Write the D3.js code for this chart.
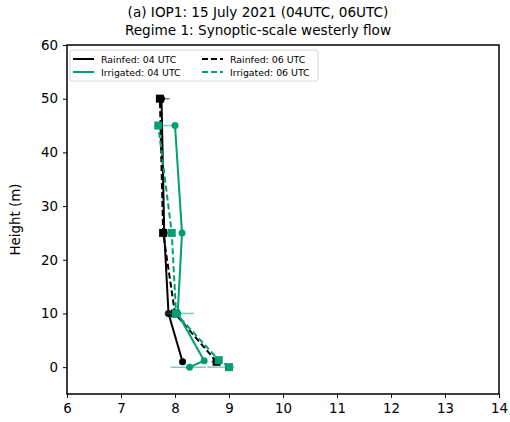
<!DOCTYPE html>
<html>
<head>
<meta charset="utf-8">
<script src="https://cdn.jsdelivr.net/npm/d3@7"></script>
<style>
  body { margin: 0; background: #fff; }
  text { font-family: "DejaVu Sans", sans-serif; }
</style>
</head>
<body>
<svg id="chart" width="510" height="422"></svg>
<script>
// heights (m) and wind speed / values per series
var rainfedHeights = [1, 10, 25, 50];
var rainfed04 = [8.14, 7.88, 7.80, 7.75];
var rainfed06 = [8.77, 8.00, 7.78, 7.72];
var irrigatedHeights04 = [0, 1.2, 10, 25, 45];
var irrigated04 = [8.27, 8.54, 8.05, 8.13, 8.00];
var irrigatedHeights06 = [0, 1.3, 10, 25, 45];
var irrigated06 = [9.00, 8.81, 8.02, 7.94, 7.69];
// error bar half-widths [left, right]
var rainfed04Err = [[0.05, 0.05], [0, 0], [0, 0], [0, 0]];
var rainfed06Err = [[0.1, 0.1], [0, 0], [0, 0], [0, 0.18]];
var irrigated04Err = [[0.35, 0.3], [0, 0], [0.25, 0.3], [0, 0], [0, 0]];
var irrigated06Err = [[0.4, 0.1], [0, 0], [0, 0], [0, 0], [0, 0.3]];
var xTicks = [6, 7, 8, 9, 10, 11, 12, 13, 14];
var yTicks = [0, 10, 20, 30, 40, 50, 60];

var GREEN = '#029e73';
var BLACK = '#000000';

var svg = d3.select('#chart');
var m = { left: 67, right: 499, top: 45, bottom: 394 };

var x = d3.scaleLinear().domain([6, 14]).range([m.left, m.right]);
var y = d3.scaleLinear().domain([-5, 60]).range([m.bottom, m.top]);

// titles
svg.append('text').attr('x', 258).attr('y', 17).attr('text-anchor', 'middle')
    .attr('font-size', '13.6px').text('(a) IOP1: 15 July 2021 (04UTC, 06UTC)');
svg.append('text').attr('x', 258).attr('y', 35).attr('text-anchor', 'middle')
    .attr('font-size', '13.6px').text('Regime 1: Synoptic-scale westerly flow');

// axes
var xAxis = svg.append('g').attr('transform', 'translate(0,' + m.bottom + ')')
    .call(d3.axisBottom(x).tickValues(xTicks).tickSize(4).tickPadding(5).tickFormat(d3.format('d')));
var yAxis = svg.append('g').attr('transform', 'translate(' + m.left + ',0)')
    .call(d3.axisLeft(y).tickValues(yTicks).tickSize(4).tickPadding(5).tickFormat(d3.format('d')));
[xAxis, yAxis].forEach(function(a) {
    a.select('.domain').remove();
    a.selectAll('text').attr('font-size', '13.4px').attr('fill', '#000')
        .style('font-family', '"DejaVu Sans", sans-serif');
    a.selectAll('line').attr('stroke', '#000').attr('stroke-width', 1);
});

svg.append('text').attr('transform', 'translate(20,' + ((m.top + m.bottom) / 2) + ') rotate(-90)')
    .attr('text-anchor', 'middle').attr('font-size', '13.4px').text('Height (m)');

var plot = svg.append('g');

var series = [
    { h: rainfedHeights, v: rainfed04, err: rainfed04Err, color: BLACK, dash: null, marker: 'circle' },
    { h: rainfedHeights, v: rainfed06, err: rainfed06Err, color: BLACK, dash: '6,3', marker: 'square' },
    { h: irrigatedHeights04, v: irrigated04, err: irrigated04Err, color: GREEN, dash: null, marker: 'circle' },
    { h: irrigatedHeights06, v: irrigated06, err: irrigated06Err, color: GREEN, dash: '6,3', marker: 'square' }
];

var line = d3.line().x(function(d) { return x(d[0]); }).y(function(d) { return y(d[1]); });

series.forEach(function(s) {
    var pts = s.v.map(function(v, i) { return [v, s.h[i], s.err[i]]; });
    // error bars
    plot.append('g').selectAll('line').data(pts.filter(function(p) { return p[2][0] + p[2][1] > 0; }))
        .enter().append('line')
        .attr('x1', function(d) { return x(d[0] - d[2][0]); })
        .attr('x2', function(d) { return x(d[0] + d[2][1]); })
        .attr('y1', function(d) { return y(d[1]); })
        .attr('y2', function(d) { return y(d[1]); })
        .attr('stroke', s.color).attr('stroke-width', 1.5).attr('opacity', 0.5);
    plot.append('path').datum(pts).attr('d', line)
        .attr('fill', 'none').attr('stroke', s.color).attr('stroke-width', 2)
        .attr('stroke-dasharray', s.dash);
    var mk = plot.append('g').selectAll('.mk').data(pts).enter();
    if (s.marker === 'circle') {
        mk.append('circle').attr('cx', function(d) { return x(d[0]); })
            .attr('cy', function(d) { return y(d[1]); }).attr('r', 3.5).attr('fill', s.color);
    } else {
        mk.append('rect').attr('x', function(d) { return x(d[0]) - 4; })
            .attr('y', function(d) { return y(d[1]) - 4; }).attr('width', 8).attr('height', 8)
            .attr('fill', s.color);
    }
});

// frame
svg.append('rect').attr('x', m.left).attr('y', m.top)
    .attr('width', m.right - m.left).attr('height', m.bottom - m.top)
    .attr('fill', 'none').attr('stroke', '#000').attr('stroke-width', 1.5);

// legend
var lg = svg.append('g');
lg.append('rect').attr('x', 70).attr('y', 50).attr('width', 248).attr('height', 31).attr('rx', 2)
    .attr('fill', '#fff').attr('stroke', '#ccc').attr('stroke-width', 0.8);
var legendItems = [
    { label: 'Rainfed: 04 UTC', color: BLACK, dash: null, lx: 73, ly: 59 },
    { label: 'Rainfed: 06 UTC', color: BLACK, dash: '6,3', lx: 202, ly: 59 },
    { label: 'Irrigated: 04 UTC', color: GREEN, dash: null, lx: 73, ly: 72 },
    { label: 'Irrigated: 06 UTC', color: GREEN, dash: '6,3', lx: 202, ly: 72 }
];
legendItems.forEach(function(it) {
    lg.append('line').attr('x1', it.lx).attr('x2', it.lx + 21).attr('y1', it.ly).attr('y2', it.ly)
        .attr('stroke', it.color).attr('stroke-width', 2).attr('stroke-dasharray', it.dash);
    lg.append('text').attr('x', it.lx + 28).attr('y', it.ly + 3.5).attr('font-size', '9.4px').text(it.label);
});
</script>
</body>
</html>
